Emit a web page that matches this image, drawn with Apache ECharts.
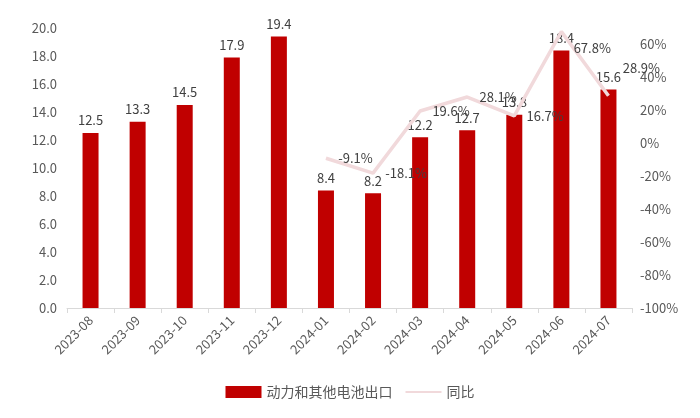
<!DOCTYPE html>
<html><head><meta charset="utf-8">
<script src="https://cdn.jsdelivr.net/npm/echarts@6/dist/echarts.min.js"></script>
<style>html,body{margin:0;padding:0;background:#fff}#c{width:700px;height:418px}</style>
</head><body><div id="c"></div>
<script>
var categories = ['2023-08','2023-09','2023-10','2023-11','2023-12','2024-01','2024-02','2024-03','2024-04','2024-05','2024-06','2024-07'];
var exportValues = [12.5, 13.3, 14.5, 17.9, 19.4, 8.4, 8.2, 12.2, 12.7, 13.8, 18.4, 15.6];
var yoyValues = [null, null, null, null, null, -9.1, -18.1, 19.6, 28.1, 16.7, 67.8, 28.9];
var leftTicks = {min: 0, max: 20, interval: 2};
var rightTicks = {min: -100, max: 70, interval: 20};

var labelOffsets = {10: [0, 16], 11: [2, -28]};
var yoyData = yoyValues.map(function(v, i){
  var o = {value: v};
  if (labelOffsets[i]) o.label = {offset: labelOffsets[i]};
  return o;
});

var font = '"Noto Sans CJK SC", "Open Sans", sans-serif';
var chart = echarts.init(document.getElementById('c'));
chart.setOption({
  animation: false,
  textStyle: {fontFamily: font},
  grid: {left: 67, right: 68, top: 28, bottom: 110},
  legend: {
    bottom: 14, left: 'center', itemWidth: 36, itemHeight: 12, itemGap: 12,
    textStyle: {fontSize: 14, color: '#595959', fontFamily: font},
    data: [
      {name: '动力和其他电池出口', icon: 'rect'},
      {name: '同比', itemStyle: {opacity: 0}}
    ]
  },
  xAxis: {
    type: 'category', data: categories,
    axisLine: {lineStyle: {color: '#d9d9d9'}},
    axisTick: {show: true, alignWithLabel: false, length: 5, lineStyle: {color: '#d9d9d9'}},
    axisLabel: {rotate: 45, color: '#595959', fontSize: 13, margin: 10}
  },
  yAxis: [
    {type: 'value', min: leftTicks.min, max: leftTicks.max, interval: leftTicks.interval,
     splitLine: {show: false}, axisLine: {show: false}, axisTick: {show: false},
     axisLabel: {color: '#595959', fontSize: 13, margin: 10, formatter: function(v){return v.toFixed(1);}}},
    {type: 'value', min: rightTicks.min, max: rightTicks.max, interval: rightTicks.interval,
     splitLine: {show: false}, axisLine: {show: false}, axisTick: {show: false},
     axisLabel: {color: '#595959', fontSize: 13, margin: 8, showMaxLabel: false, formatter: '{value}%'}}
  ],
  series: [
    {name: '同比', type: 'line', yAxisIndex: 1, data: yoyData, connectNulls: false, z: 3,
     symbol: 'circle', symbolSize: 0.5, showSymbol: true,
     lineStyle: {color: '#f1d9db', width: 3.5}, itemStyle: {color: '#f1d9db'},
     label: {show: true, position: 'right', color: '#404040', fontSize: 13, distance: 12, opacity: 1,
             formatter: function(p){return p.value.toFixed(1) + '%';}}},
    {name: '动力和其他电池出口', type: 'bar', data: exportValues, barWidth: 16, z: 2,
     itemStyle: {color: '#c00000'},
     label: {show: true, position: 'top', color: '#404040', fontSize: 13, distance: 6,
             formatter: function(p){return p.value.toFixed(1);}}}
  ]
});
</script></body></html>
